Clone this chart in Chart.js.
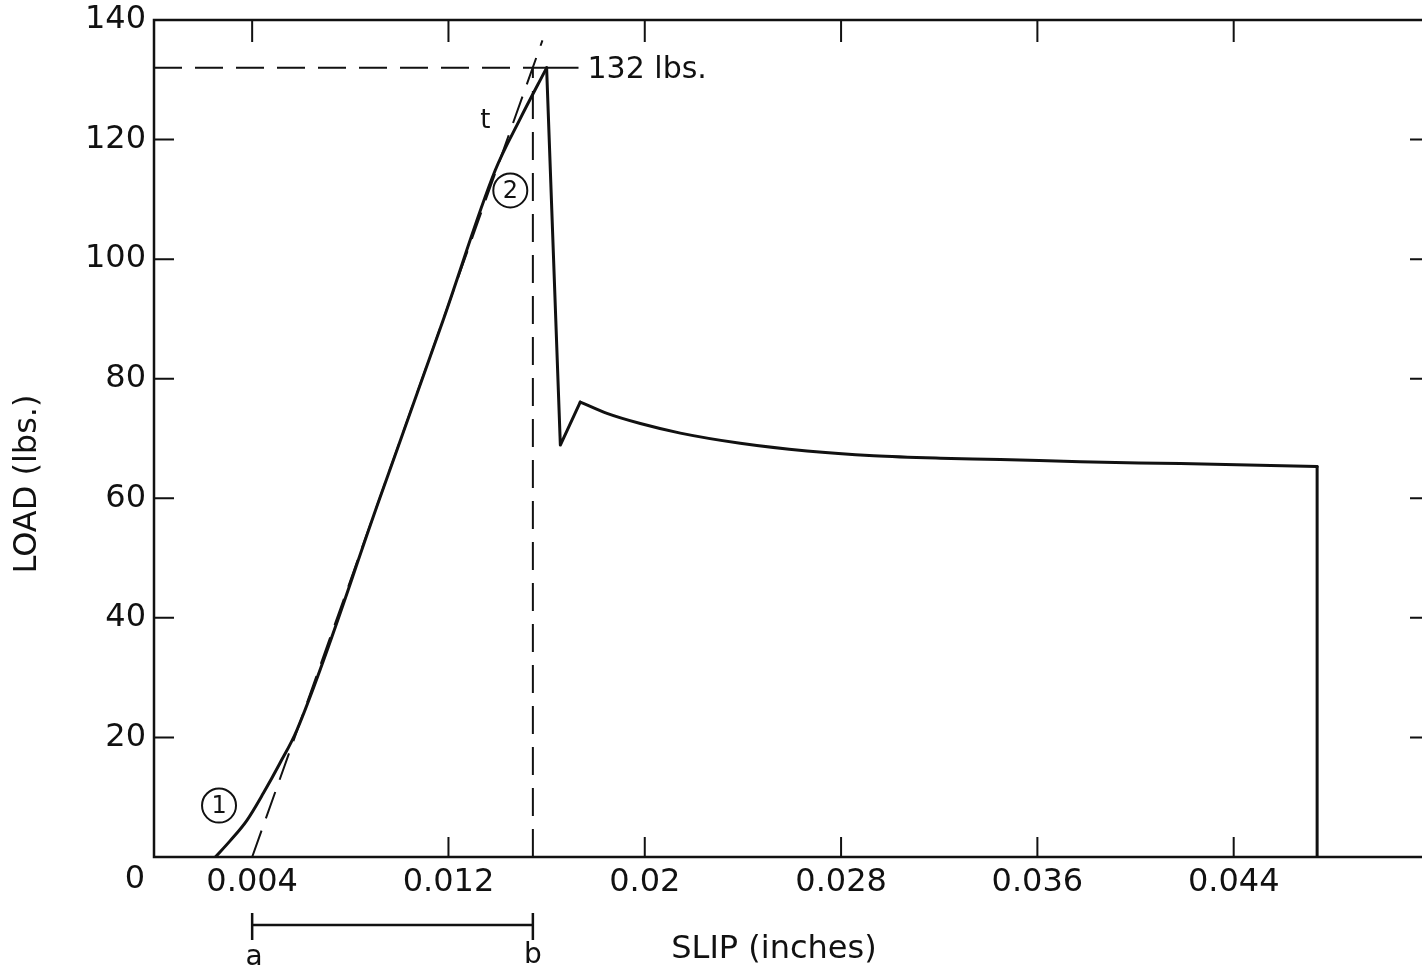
<!DOCTYPE html>
<html>
<head>
<meta charset="utf-8">
<title>Load vs slip</title>
<script src="https://cdn.jsdelivr.net/npm/chart.js@4.4.1/dist/chart.umd.min.js"></script>
<style>
  html, body { margin: 0; padding: 0; background: #fff; overflow: hidden; }
  #wrap { width: 1430px; height: 971px; position: relative; }
</style>
</head>
<body>
<div id="wrap"><canvas id="chart"></canvas></div>
<script>
// load-slip curve (slip in inches, load in lbs)
const slipValues = [0.0025, 0.0031, 0.00378, 0.00446, 0.00512, 0.00582, 0.0092, 0.0118, 0.01391, 0.0149, 0.0160,
                    0.01656, 0.01737, 0.01846, 0.01982, 0.02145, 0.02389, 0.02661, 0.02933, 0.03205,
                    0.03449, 0.03775, 0.04183, 0.0474, 0.0474];
const loadValues = [0, 2.7, 6.1, 10.7, 15.6, 21.2, 60, 90, 114.9, 123.3, 132,
                    68.9, 76.1, 74.2, 72.5, 70.9, 69.2, 67.9, 67.1, 66.7,
                    66.5, 66.1, 65.8, 65.3, 0];

// pieces of the curve: smooth runs and sharp corners
const risingPart = [0, 10];  // toe to peak
const dropPart = [10, 12];   // peak -> dip -> rebound
const decayPart = [12, 23];  // slow decay
const endPart = [23, 24];    // final drop

// tangent line "t"
const tangentSlip = [0.004, 0.01583];
const tangentLoad = [0, 136.6];

// peak load and the a-b interval
const peakLoad = 132;
const peakSlip = 0.0160;
const leaderEndSlip = 0.0173;
const aSlip = 0.004;
const bSlip = 0.01544;

// axes
const xTickValues = [0.004, 0.012, 0.02, 0.028, 0.036, 0.044];
const xTickLabels = ["0.004", "0.012", "0.02", "0.028", "0.036", "0.044"];
const yTickValues = [20, 40, 60, 80, 100, 120, 140];

const ink = "#111";
const font = "'DejaVu Sans', 'Liberation Sans', sans-serif";

const toPoints = (xs, ys) => xs.map((v, i) => ({ x: v, y: ys[i] }));
const part = ([from, to]) =>
    toPoints(slipValues.slice(from, to + 1), loadValues.slice(from, to + 1));

const framePlugin = {
    id: "frame",
    afterDatasetsDraw(chart) {
        const { ctx, chartArea: a, scales: { x, y } } = chart;
        ctx.save();
        ctx.strokeStyle = ink;
        ctx.fillStyle = ink;
        ctx.lineCap = "butt";

        // frame (right side lies off the picture)
        ctx.lineWidth = 2.5;
        ctx.beginPath();
        ctx.moveTo(a.right, a.top);
        ctx.lineTo(a.left, a.top);
        ctx.lineTo(a.left, a.bottom);
        ctx.lineTo(a.right, a.bottom);
        ctx.stroke();

        // inward tick marks
        ctx.lineWidth = 2;
        ctx.beginPath();
        xTickValues.forEach((v) => {
            const px = x.getPixelForValue(v);
            ctx.moveTo(px, a.top);
            ctx.lineTo(px, a.top + 22);
            if (v > aSlip) {
                ctx.moveTo(px, a.bottom);
                ctx.lineTo(px, a.bottom - 20);
            }
        });
        yTickValues.slice(0, -1).forEach((v) => {
            const py = y.getPixelForValue(v);
            ctx.moveTo(a.left, py);
            ctx.lineTo(a.left + 20, py);
            ctx.moveTo(a.right, py);
            ctx.lineTo(a.right - 20, py);
        });
        ctx.stroke();

        // origin label
        ctx.font = `32px ${font}`;
        ctx.textAlign = "center";
        ctx.textBaseline = "middle";
        ctx.fillText("0", a.left - 19, a.bottom + 23);

        // a-b interval bar below the axis
        const ax = x.getPixelForValue(aSlip);
        const bx = x.getPixelForValue(bSlip);
        const barY = a.bottom + 68;
        ctx.lineWidth = 2.5;
        ctx.beginPath();
        ctx.moveTo(ax, barY);
        ctx.lineTo(bx, barY);
        ctx.moveTo(ax, barY - 12);
        ctx.lineTo(ax, barY + 15);
        ctx.moveTo(bx, barY - 12);
        ctx.lineTo(bx, barY + 15);
        ctx.stroke();
        ctx.font = `28px ${font}`;
        ctx.fillText("a", ax + 2, barY + 33);
        ctx.fillText("b", bx, barY + 31);

        // peak label
        ctx.font = `30px ${font}`;
        ctx.textAlign = "left";
        ctx.fillText("132 lbs.", x.getPixelForValue(leaderEndSlip) + 9, y.getPixelForValue(peakLoad) + 2);

        // tangent label
        ctx.font = `26px ${font}`;
        ctx.textAlign = "center";
        ctx.fillText("t", x.getPixelForValue(0.0135), y.getPixelForValue(123));

        // circled point labels
        [[0.00265, 8.6, "1"], [0.01452, 111.5, "2"]].forEach(([sx, ly, txt]) => {
            const cx = x.getPixelForValue(sx);
            const cy = y.getPixelForValue(ly);
            ctx.lineWidth = 2;
            ctx.beginPath();
            ctx.arc(cx, cy, 17, 0, Math.PI * 2);
            ctx.stroke();
            ctx.font = `24px ${font}`;
            ctx.fillText(txt, cx, cy + 1);
        });

        // axis titles
        ctx.font = `32px ${font}`;
        ctx.fillText("SLIP (inches)", 774, 950);
        ctx.translate(28, 484);
        ctx.rotate(-Math.PI / 2);
        ctx.fillText("LOAD (lbs.)", 0, 0);
        ctx.restore();
    },
};

const dashed = [28, 13];
const curveStyle = {
    borderColor: ink,
    borderWidth: 3,
    pointRadius: 0,
    borderJoinStyle: "round",
    borderCapStyle: "round",
};

new Chart(document.getElementById("chart"), {
    type: "line",
    data: {
        datasets: [
            { label: "Load", data: part(risingPart), cubicInterpolationMode: "monotone", ...curveStyle },
            { label: "Load drop", data: part(dropPart), tension: 0, ...curveStyle },
            { label: "Load decay", data: part(decayPart), cubicInterpolationMode: "monotone", ...curveStyle },
            { label: "Load end", data: part(endPart), tension: 0, ...curveStyle },
            {
                label: "Tangent t",
                data: toPoints(tangentSlip, tangentLoad),
                borderColor: ink,
                borderWidth: 2,
                borderDash: dashed,
                pointRadius: 0,
            },
            {
                label: "Peak level",
                data: toPoints([0, peakSlip], [peakLoad, peakLoad]),
                borderColor: ink,
                borderWidth: 2,
                borderDash: dashed,
                pointRadius: 0,
            },
            {
                label: "Peak leader",
                data: toPoints([peakSlip, leaderEndSlip], [peakLoad, peakLoad]),
                borderColor: ink,
                borderWidth: 2,
                pointRadius: 0,
            },
            {
                label: "b",
                data: toPoints([bSlip, bSlip], [0, peakLoad]),
                borderColor: ink,
                borderWidth: 2,
                borderDash: dashed,
                pointRadius: 0,
            },
        ],
    },
    options: {
        responsive: true,
        maintainAspectRatio: false,
        animation: false,
        layout: { padding: { top: 20, left: 0, right: 0, bottom: 0 } },
        plugins: {
            legend: { display: false },
            tooltip: { enabled: false },
        },
        scales: {
            x: {
                type: "linear",
                min: 0,
                max: 0.052,
                grid: { display: false, drawTicks: false },
                border: { display: false },
                afterBuildTicks: (s) => {
                    s.ticks = xTickValues.map((v) => ({ value: v }));
                },
                afterFit: (s) => {
                    s.height = 114;
                    s.paddingLeft = 0;
                    s.paddingRight = 0;
                },
                ticks: {
                    color: ink,
                    padding: 6,
                    maxRotation: 0,
                    autoSkip: false,
                    font: { family: font, size: 32 },
                    callback: (v) => {
                        const i = xTickValues.findIndex((t) => Math.abs(t - v) < 1e-9);
                        return i >= 0 ? xTickLabels[i] : "";
                    },
                },
            },
            y: {
                min: 0,
                max: 140,
                grid: { display: false, drawTicks: false },
                border: { display: false },
                afterBuildTicks: (s) => {
                    s.ticks = yTickValues.map((v) => ({ value: v }));
                },
                afterFit: (s) => {
                    s.width = 154;
                    s.paddingTop = 0;
                    s.paddingBottom = 0;
                },
                ticks: {
                    color: ink,
                    padding: 8,
                    font: { family: font, size: 32 },
                },
            },
        },
    },
    plugins: [framePlugin],
});
</script>
</body>
</html>
